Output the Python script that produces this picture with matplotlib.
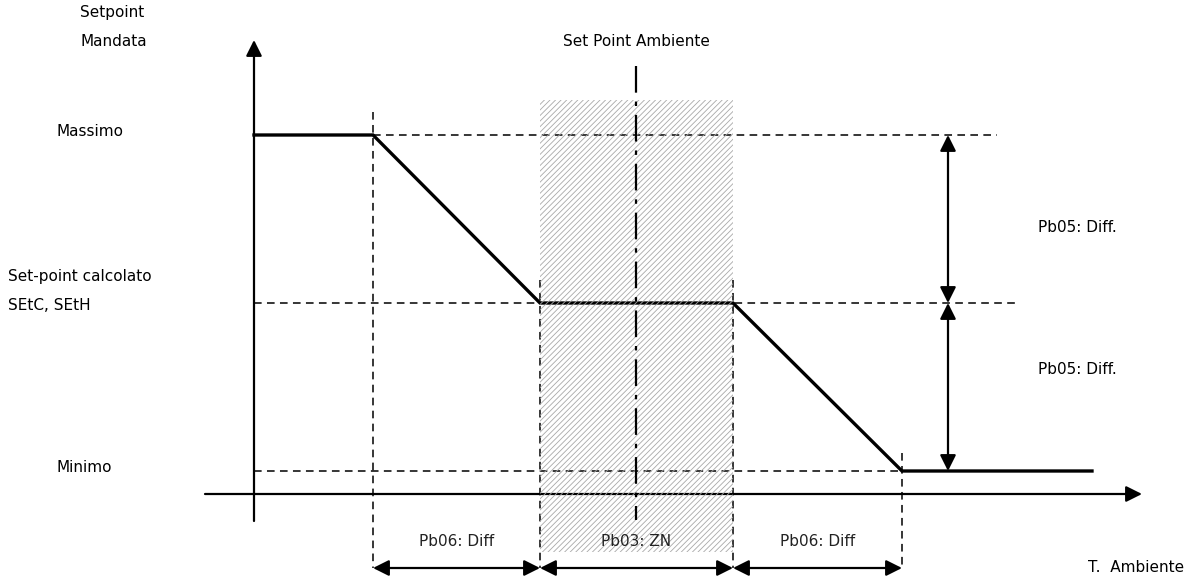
import matplotlib
matplotlib.use("Agg")
import matplotlib.pyplot as plt
from matplotlib.patches import Rectangle

# diagram units (same scale as the picture, y grows downwards)
curve_x = [254, 373, 540, 733, 902, 1092]
curve_y = [135, 135, 303, 303, 471, 471]

levels = {"max": 135, "calc": 303, "min": 471}
level_ends = {"max": (373, 997), "calc": (254, 1017), "min": (254, 902)}
vlines_x = [373, 540, 733, 902]
vlines_top = [112, 280, 280, 453]
setpoint_x = 636
zone = (540, 733)

bottom_labels = ["Pb06: Diff", "Pb03: ZN", "Pb06: Diff"]
right_labels = ["Pb05: Diff.", "Pb05: Diff."]

fig = plt.figure(figsize=(11.97, 5.79), dpi=100)
ax = fig.add_axes([0, 0, 1, 1])
ax.set_xlim(0, 1197)
ax.set_ylim(579, 0)
ax.axis("off")

plt.rcParams["hatch.linewidth"] = 0.6
dash = dict(color="black", lw=1.1, ls=(0, (5, 3.5)))
fs = 11
arrow = dict(color="black", lw=1.6, mutation_scale=24, shrinkA=0, shrinkB=0)

# axes arrows
ax.annotate("", xy=(254, 40), xytext=(254, 521), arrowprops=dict(arrowstyle="-|>", **arrow))
ax.annotate("", xy=(1142, 494), xytext=(205, 494), arrowprops=dict(arrowstyle="-|>", **arrow))

# horizontal reference levels
for k, y in levels.items():
    x0, x1 = level_ends[k]
    ax.plot([x0, x1], [y, y], **dash)

# vertical reference lines
for x, top in zip(vlines_x, vlines_top):
    ax.plot([x, x], [top, 568], **dash)

# setpoint curve
ax.plot(curve_x, curve_y, color="black", lw=2.4, solid_joinstyle="miter")

# neutral zone hatch
ax.add_patch(Rectangle((zone[0], 100), zone[1] - zone[0], 452, facecolor="none",
                       edgecolor="#a8a8a8", hatch="//////", lw=0, zorder=3))

# ambient setpoint dash-dot line
ax.plot([setpoint_x, setpoint_x], [66, 520], color="black", lw=1.6,
        ls=(0, (12, 4, 2, 4)), zorder=4)
ax.text(setpoint_x, 41, "Set Point Ambiente", ha="center", va="center", fontsize=fs)

# bottom dimension arrows
bx = [373, 540, 733, 902]
for i, lab in enumerate(bottom_labels):
    ax.annotate("", xy=(bx[i + 1], 568), xytext=(bx[i], 568),
                arrowprops=dict(arrowstyle="<|-|>", **arrow), zorder=5)
    ax.text((bx[i] + bx[i + 1]) / 2, 542, lab, ha="center", va="center", fontsize=fs,
            color="#222222", zorder=6)

# right dimension arrows
ry = [levels["max"], levels["calc"], levels["min"]]
for i, lab in enumerate(right_labels):
    ax.annotate("", xy=(948, ry[i + 1]), xytext=(948, ry[i]),
                arrowprops=dict(arrowstyle="<|-|>", **arrow))
ax.text(1038, 228, right_labels[0], ha="left", va="center", fontsize=fs)
ax.text(1038, 370, right_labels[1], ha="left", va="center", fontsize=fs)

# left labels
ax.text(80, 13, "Setpoint", ha="left", va="center", fontsize=fs)
ax.text(80, 42, "Mandata", ha="left", va="center", fontsize=fs)
ax.text(57, 132, "Massimo", ha="left", va="center", fontsize=fs)
ax.text(8, 277, "Set-point calcolato", ha="left", va="center", fontsize=fs)
ax.text(8, 306, "SEtC, SEtH", ha="left", va="center", fontsize=fs)
ax.text(57, 467, "Minimo", ha="left", va="center", fontsize=fs)
ax.text(1088, 567, "T.  Ambiente", ha="left", va="center", fontsize=fs)

fig.savefig("out.png", dpi=100)
